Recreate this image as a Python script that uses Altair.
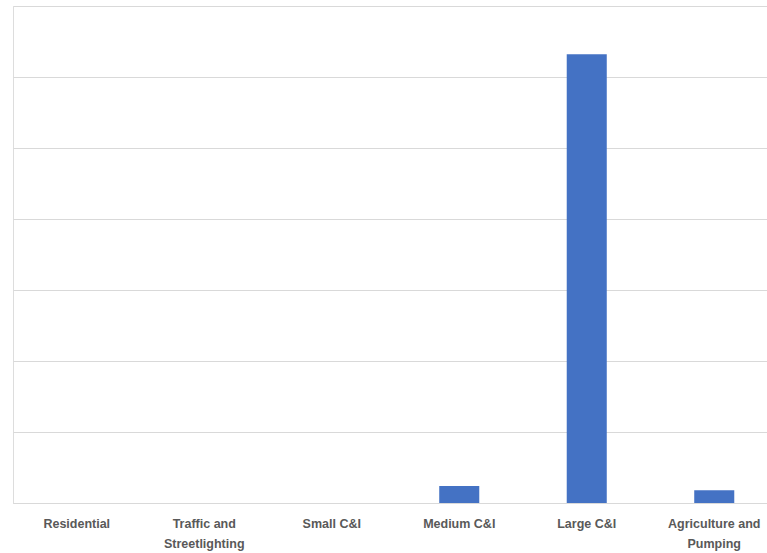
import altair as alt
import pandas as pd

categories = ["Residential", "Traffic and Streetlighting", "Small C&I",
              "Medium C&I", "Large C&I", "Agriculture and Pumping"]
values = [0, 0, 0, 24, 632, 18]
label_lines = {
    "Traffic and Streetlighting": ["Traffic and", "Streetlighting"],
    "Agriculture and Pumping": ["Agriculture and", "Pumping"],
}

df = pd.DataFrame({"category": categories, "value": values})

expr_parts = []
for k, v in label_lines.items():
    arr = "[" + ",".join("'" + s + "'" for s in v) + "]"
    expr_parts.append(f"datum.value == '{k}' ? {arr} : ")
label_expr = "".join(expr_parts) + "datum.value"

chart = alt.Chart(df).mark_bar(color="#4472c4").encode(
    x=alt.X("category:N", sort=categories, title=None,
            scale=alt.Scale(range=[0, 765], paddingInner=0.686, paddingOuter=0.343),
            axis=alt.Axis(labelAngle=0, labelExpr=label_expr, ticks=False,
                          domainColor="#d9d9d9", domainWidth=1,
                          labelColor="#595959", labelFont="Liberation Sans",
                          labelFontWeight="bold", labelFontSize=12.5,
                          labelPadding=14, labelLineHeight=20, labelLimit=200)),
    y=alt.Y("value:Q", title=None,
            scale=alt.Scale(domain=[0, 700], nice=False),
            axis=alt.Axis(values=[0, 100, 200, 300, 400, 500, 600, 700],
                          labels=False, ticks=False, domain=False,
                          gridColor="#d9d9d9", gridWidth=1)),
).properties(
    width=754, height=497,
    autosize=alt.AutoSizeParams(type="none"),
    padding={"left": 13, "top": 6, "right": 0, "bottom": 50},
).configure_view(stroke=None).configure(background="white")

chart.save("out.html", embed_options={"renderer": "svg", "actions": False})
